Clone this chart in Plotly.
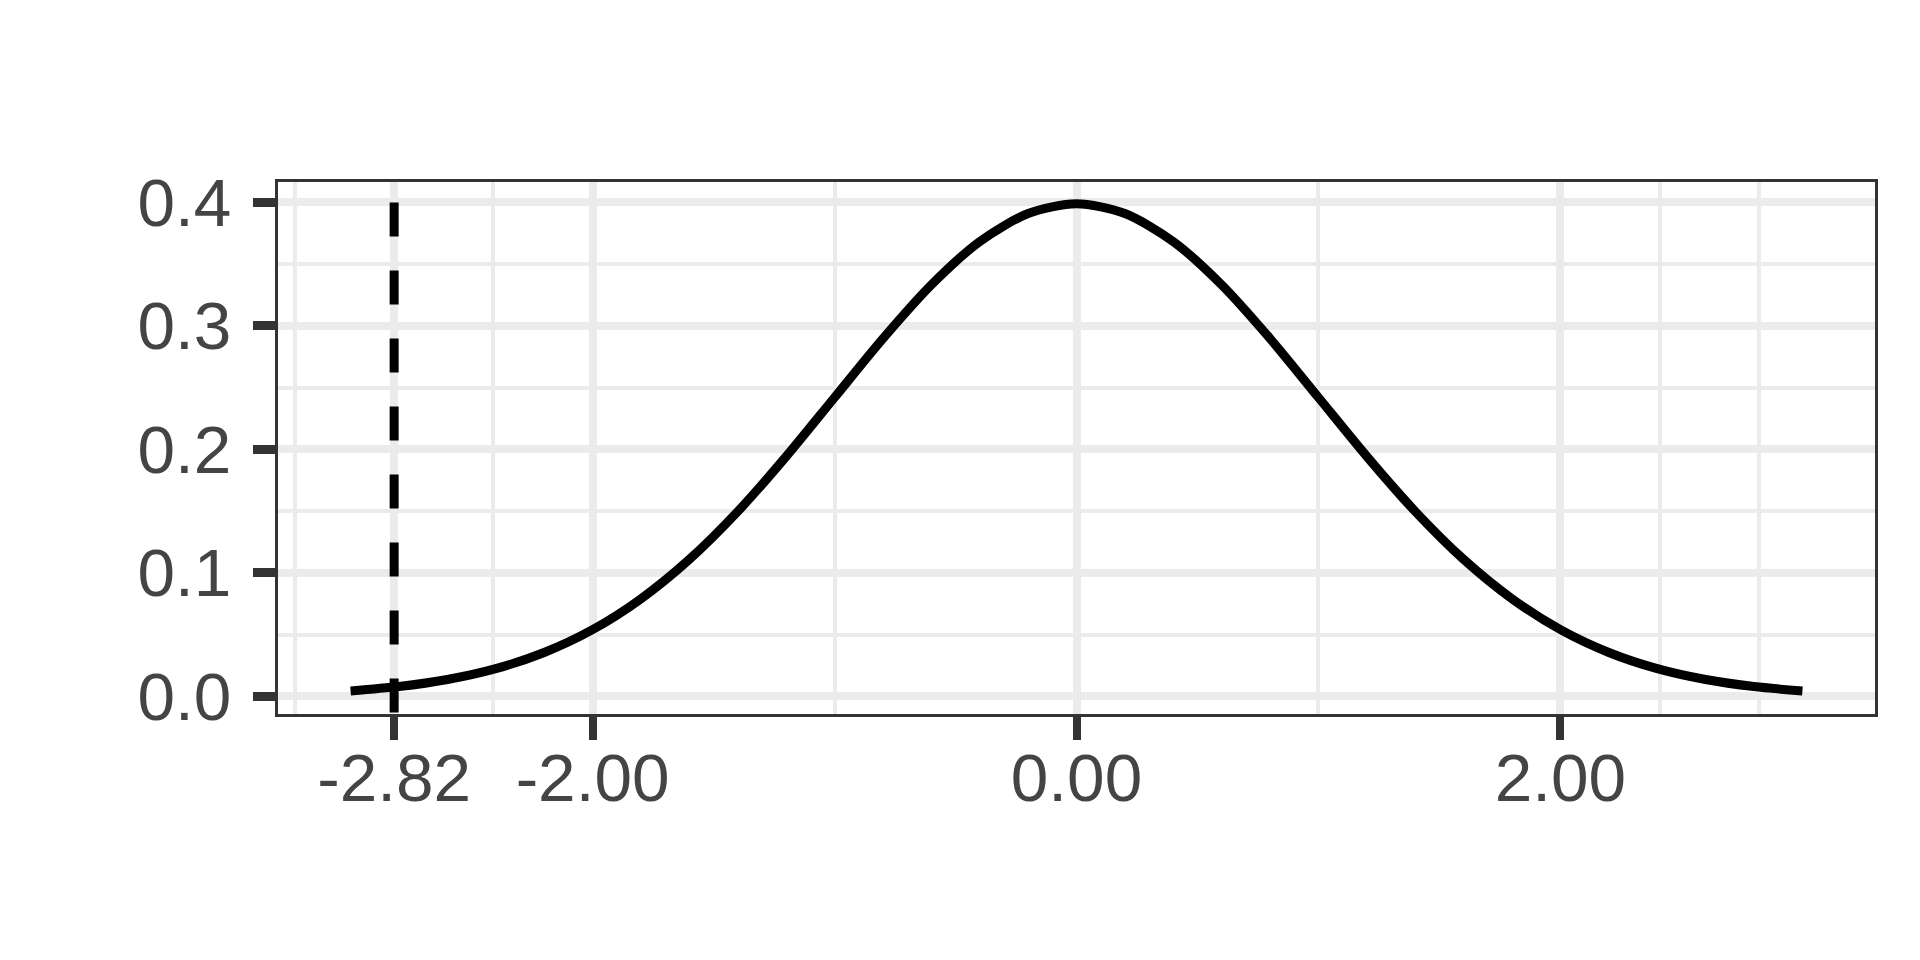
import plotly.graph_objects as go

# Density curve values (standard normal shape)
curve_x = [-3.0, -2.8, -2.6, -2.4, -2.2, -2.0, -1.8, -1.6, -1.4, -1.2, -1.0, -0.8, -0.6, -0.4, -0.2,
           0.0, 0.2, 0.4, 0.6, 0.8, 1.0, 1.2, 1.4, 1.6, 1.8, 2.0, 2.2, 2.4, 2.6, 2.8, 3.0]
curve_y = [0.0044, 0.0079, 0.0136, 0.0224, 0.0355, 0.0540, 0.0790, 0.1109, 0.1497, 0.1942, 0.2420,
           0.2897, 0.3332, 0.3683, 0.3910, 0.3989, 0.3910, 0.3683, 0.3332, 0.2897, 0.2420, 0.1942,
           0.1497, 0.1109, 0.0790, 0.0540, 0.0355, 0.0224, 0.0136, 0.0079, 0.0044]

# Critical value marker
crit_x = -2.82
crit_top = 0.40

x_tickvals = [-2.82, -2.00, 0.00, 2.00]
x_ticktext = ["-2.82", "-2.00", "0.00", "2.00"]
x_minor = [-3.23, -2.41, -1.00, 1.00, 2.41, 2.82]

y_tickvals = [0.0, 0.1, 0.2, 0.3, 0.4]
y_ticktext = ["0.0", "0.1", "0.2", "0.3", "0.4"]
y_minor = [0.05, 0.15, 0.25, 0.35]

x_range = [-3.3, 3.3]
y_range = [-0.0143, 0.4165]

fig = go.Figure()
fig.add_trace(go.Scatter(
    x=curve_x, y=curve_y, mode="lines",
    line=dict(color="black", width=9, shape="spline", smoothing=0.8),
    hoverinfo="skip", showlegend=False))
fig.add_trace(go.Scatter(
    x=[crit_x, crit_x], y=[crit_top, y_range[0] - 0.05], mode="lines",
    line=dict(color="black", width=9, dash="34px,34px"),
    hoverinfo="skip", showlegend=False))

font = dict(family="Liberation Sans, Arial, sans-serif", size=67.5, color="#444444")
grid = "#EBEBEB"
dark = "#333333"

fig.update_layout(
    width=1920, height=960,
    margin=dict(l=270, r=53, t=174, b=254),
    paper_bgcolor="white", plot_bgcolor="white",
    showlegend=False,
    xaxis=dict(
        range=x_range, tickmode="array", tickvals=x_tickvals, ticktext=x_ticktext,
        showgrid=True, gridcolor=grid, gridwidth=8, zeroline=False,
        showline=True, mirror=True, linecolor=dark, linewidth=3.3,
        ticks="outside", ticklen=23, tickwidth=8, tickcolor=dark,
        tickfont=font, ticklabelstandoff=-20,
        minor=dict(tickmode="array", tickvals=x_minor, showgrid=True,
                   gridcolor=grid, gridwidth=4, ticks=""),
    ),
    yaxis=dict(
        range=y_range, tickmode="array", tickvals=y_tickvals, ticktext=y_ticktext,
        showgrid=True, gridcolor=grid, gridwidth=8, zeroline=False,
        showline=True, mirror=True, linecolor=dark, linewidth=3.3,
        ticks="outside", ticklen=22, tickwidth=9, tickcolor=dark,
        tickfont=font, ticklabelstandoff=8,
        minor=dict(tickmode="array", tickvals=y_minor, showgrid=True,
                   gridcolor=grid, gridwidth=4, ticks=""),
    ),
)

fig.write_html("out.html")
